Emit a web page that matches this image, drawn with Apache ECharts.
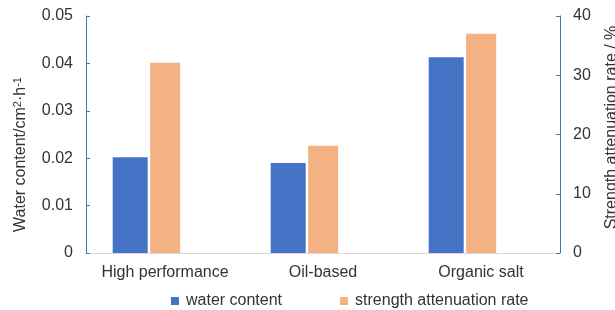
<!DOCTYPE html>
<html>
<head>
<meta charset="utf-8">
<script src="https://cdn.jsdelivr.net/npm/echarts@6/dist/echarts.min.js"></script>
<style>
  html, body { margin: 0; padding: 0; background: #fff; }
  #main { width: 615px; height: 310px; }
</style>
</head>
<body>
<div id="main"></div>
<script>
// data
var categories = ['High performance', 'Oil-based', 'Organic salt'];
var waterContent = [0.0202, 0.019, 0.0413];
var attenuationRate = [32.1, 18.1, 37.0];
var leftTicks = { min: 0, max: 0.05, interval: 0.01 };
var rightTicks = { min: 0, max: 40, interval: 10 };

var font = '"Liberation Sans", Arial, sans-serif';
var textColor = '#333';

var myChart = echarts.init(document.getElementById('main'));

var option = {
    textStyle: { fontFamily: font },
    legend: {
        data: ['water content', 'strength attenuation rate'],
        left: 166,
        top: 288,
        itemWidth: 8,
        itemHeight: 8,
        itemGap: 58,
        icon: 'rect',
        textStyle: { fontSize: 16, color: textColor, fontFamily: font, padding: [0, 0, 0, 2] }
    },
    grid: {
        left: 86,
        right: 55,
        top: 16,
        bottom: 57,
        outerBoundsMode: 'none'
    },
    xAxis: {
        type: 'category',
        data: categories,
        axisLine: { lineStyle: { color: '#d9d9d9', width: 1 } },
        axisTick: { show: false },
        axisLabel: { interval: 0, fontSize: 16, color: textColor, margin: 12, fontFamily: font }
    },
    yAxis: [
        {
            type: 'value',
            min: leftTicks.min,
            max: leftTicks.max,
            interval: leftTicks.interval,
            name: 'Water content/cm{sup|2}·h{sup|-1}',
            nameLocation: 'middle',
            nameRotate: 90,
            nameGap: 56,
            nameTextStyle: {
                fontSize: 16, color: textColor, fontFamily: font, padding: [0, 40, 0, 0],
                lineHeight: 18,
                rich: {
                    sup: { fontSize: 11, color: textColor, fontFamily: font, verticalAlign: 'top', lineHeight: 18 }
                }
            },
            axisLine: { show: true, lineStyle: { color: '#4472C4', width: 1 } },
            axisTick: { show: true, inside: true, length: 4, lineStyle: { color: '#4472C4' } },
            splitLine: { show: false },
            axisLabel: {
                fontSize: 16, color: textColor, margin: 13, fontFamily: font,
                formatter: function (v) { return v === 0 ? '0' : v.toFixed(2); }
            }
        },
        {
            type: 'value',
            position: 'right',
            min: rightTicks.min,
            max: rightTicks.max,
            interval: rightTicks.interval,
            name: 'Strength attenuation rate / %',
            nameLocation: 'middle',
            nameRotate: 90,
            nameGap: 44,
            nameTextStyle: { fontSize: 16, color: textColor, fontFamily: font, padding: [0, 0, 0, 14] },
            axisLine: { show: true, lineStyle: { color: '#4472C4', width: 1 } },
            axisTick: { show: true, inside: true, length: 4, lineStyle: { color: '#4472C4' } },
            splitLine: { show: false },
            axisLabel: { fontSize: 16, color: textColor, margin: 13, fontFamily: font }
        }
    ],
    series: [
        {
            name: 'water content',
            type: 'bar',
            yAxisIndex: 0,
            barWidth: 35,
            barGap: '7.1%',
            itemStyle: { color: '#4472C4' },
            data: waterContent
        },
        {
            name: 'strength attenuation rate',
            type: 'bar',
            yAxisIndex: 1,
            barWidth: 30,
            barGap: '7.1%',
            itemStyle: { color: '#F4B183' },
            data: attenuationRate
        },
        {
            // empty slot so the orange bar sits on the category centre
            name: 'spacer',
            type: 'bar',
            yAxisIndex: 0,
            barWidth: 35,
            barGap: '7.1%',
            silent: true,
            data: ['-', '-', '-']
        }
    ]
};

myChart.setOption(option);
</script>
</body>
</html>
